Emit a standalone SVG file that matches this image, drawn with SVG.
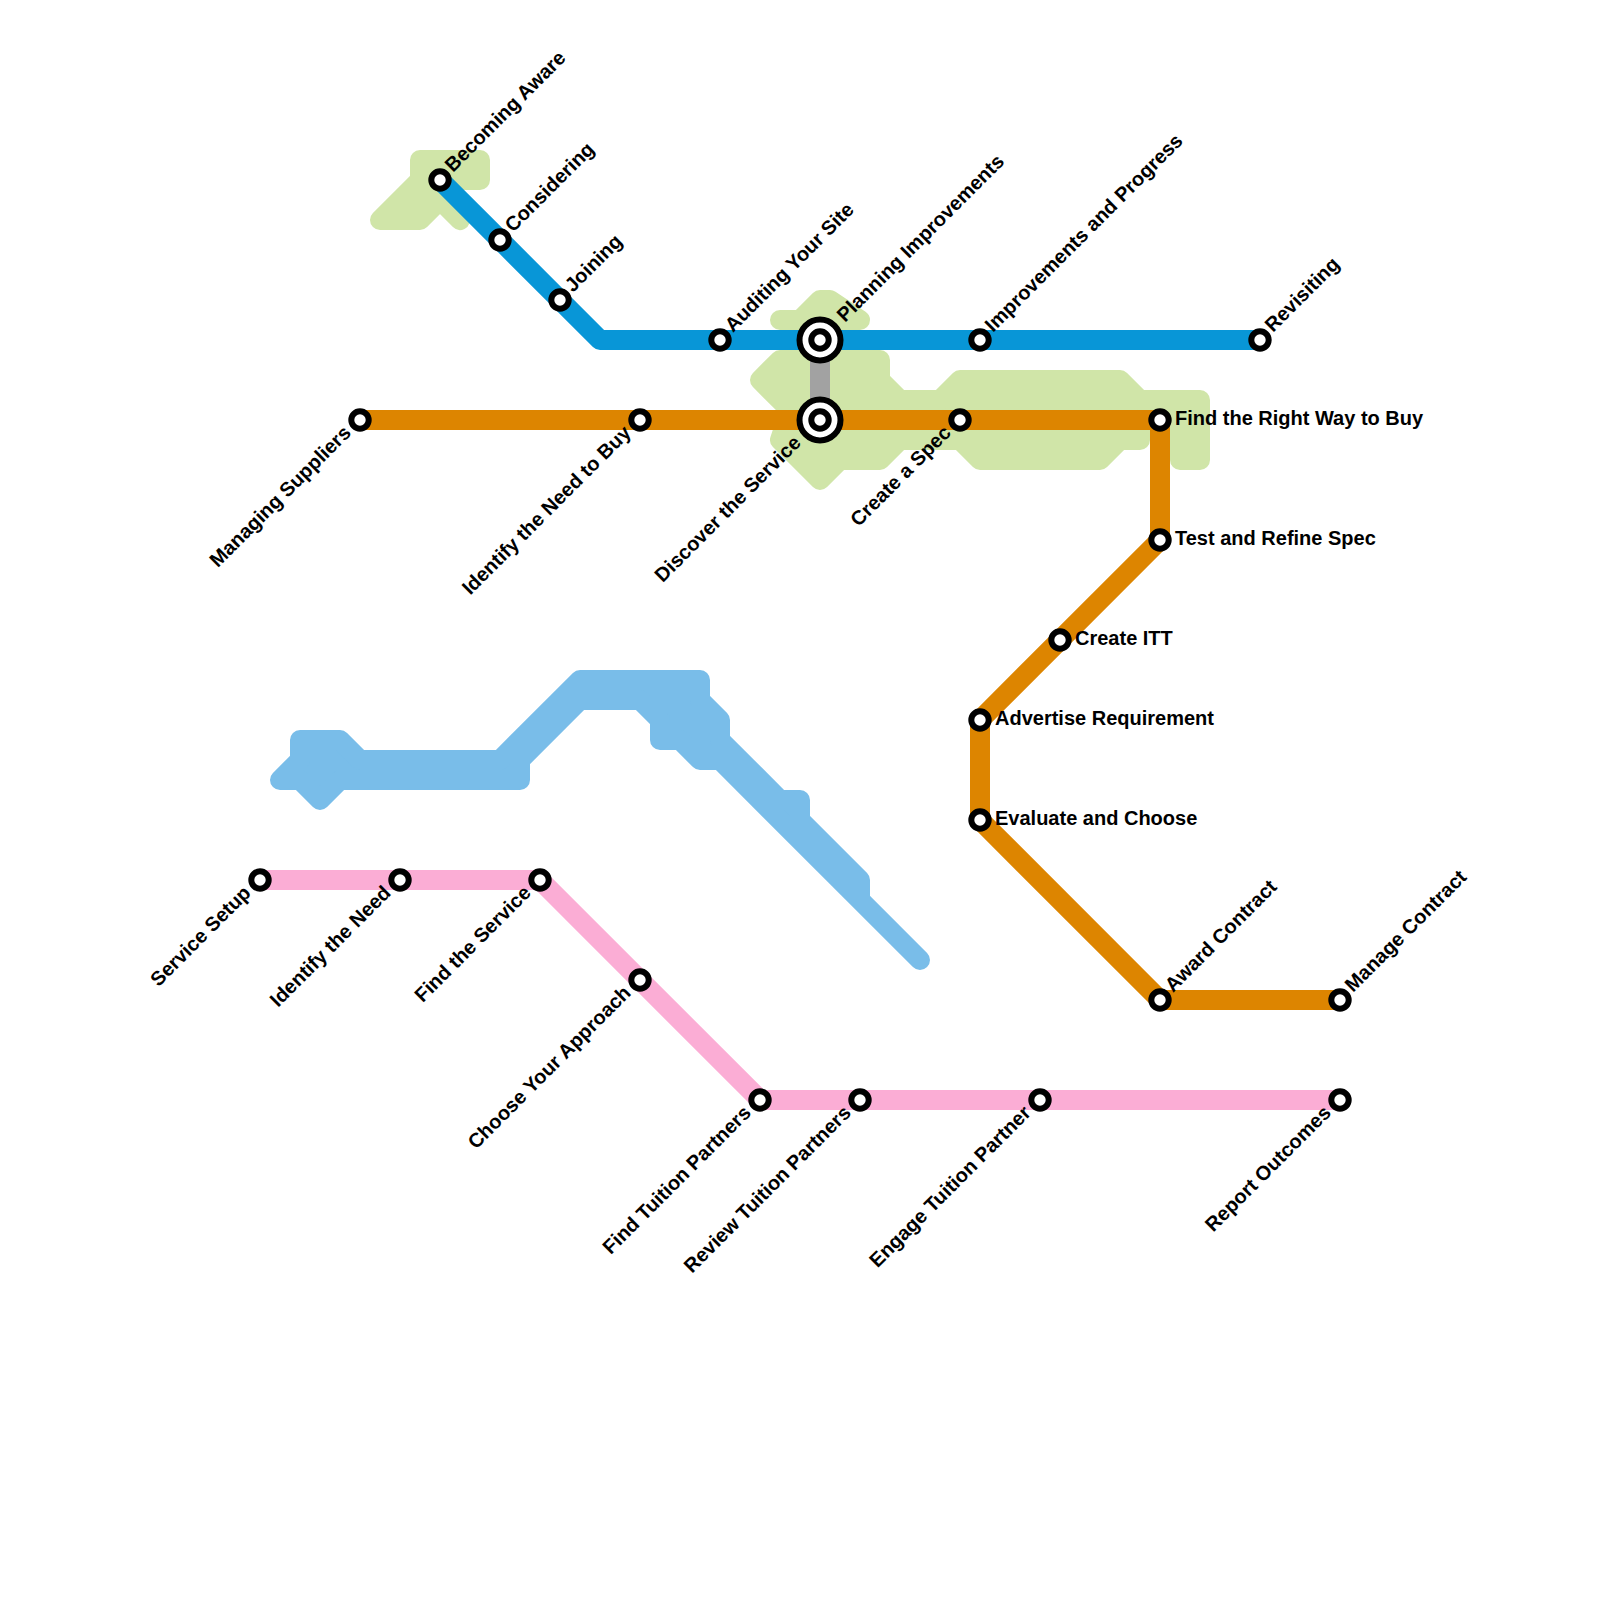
<svg xmlns="http://www.w3.org/2000/svg" width="1600" height="1600" viewBox="0 0 1600 1600">
<style>
.line{fill:none;stroke-width:20;stroke-linejoin:round;stroke-linecap:round}
.area{stroke-width:20;stroke-linejoin:round}
.st{fill:#fff;stroke:#000;stroke-width:6}
text{font-family:"Liberation Sans",Arial,sans-serif;font-weight:bold;font-size:20px;fill:#000}
.e{text-anchor:end}
</style>
<rect width="1600" height="1600" fill="#fff"/>
<g id="areas">
<polygon class="area" fill="#d0e5a8" stroke="#d0e5a8" points="420,160 480,160 480,180 440,180 460,220 440,200 420,220 380,220 420,180"/>
<polygon class="area" fill="#d0e5a8" stroke="#d0e5a8" points="780,320 860,320 830,300 820,300 800,320"/>
<polygon class="area" fill="#d0e5a8" stroke="#d0e5a8" points="760,380 780,360 880,360 880,380 900,400 940,400 960,380 1120,380 1140,400 1200,400 1200,460 1180,460 1180,420 1140,420 1140,440 1120,440 1100,460 980,460 960,440 900,440 880,460 840,460 820,480 780,440 790,410"/>
<polygon class="area" fill="#79bde9" stroke="#79bde9" points="280,780 300,760 300,740 340,740 360,760 500,760 580,680 700,680 700,700 720,720 720,740 780,800 800,800 800,820 860,880 860,900 920,960 720,760 700,760 680,740 660,740 660,720 640,700 580,700 520,760 520,780 340,780 320,800 300,780"/>
</g>
<g id="connectors">
<path class="line" stroke="#a2a2a2" d="M820 340V420"/>
<path class="line" stroke="#0896d7" d="M440 180L600 340H1260"/>
<path class="line" stroke="#dd8500" d="M360 420H1160V540L980 720V820L1160 1000H1340"/>
<path class="line" stroke="#fbadd5" d="M260 880H540L760 1100H1340"/>
</g>
<g id="s-becoming-aware"><circle class="st" cx="440" cy="180" r="8.7"/><text transform="translate(453,173) rotate(-45)">Becoming Aware</text></g>
<g id="s-considering"><circle class="st" cx="500" cy="240" r="8.7"/><text transform="translate(513,233) rotate(-45)">Considering</text></g>
<g id="s-joining"><circle class="st" cx="560" cy="300" r="8.7"/><text transform="translate(573,293) rotate(-45)">Joining</text></g>
<g id="s-auditing"><circle class="st" cx="720" cy="340" r="8.7"/><text transform="translate(733,333) rotate(-45)">Auditing Your Site</text></g>
<g id="s-planning"><circle class="st" cx="820" cy="340" r="20.5"/><circle class="st" cx="820" cy="340" r="8.7"/><text transform="translate(845,323) rotate(-45)">Planning Improvements</text></g>
<g id="s-improvements"><circle class="st" cx="980" cy="340" r="8.7"/><text transform="translate(993,333) rotate(-45)">Improvements and Progress</text></g>
<g id="s-revisiting"><circle class="st" cx="1260" cy="340" r="8.7"/><text transform="translate(1273,333) rotate(-45)">Revisiting</text></g>
<g id="s-managing"><circle class="st" cx="360" cy="420" r="8.7"/><text class="e" transform="translate(352,434) rotate(-45)">Managing Suppliers</text></g>
<g id="s-identify-buy"><circle class="st" cx="640" cy="420" r="8.7"/><text class="e" transform="translate(632,434) rotate(-45)">Identify the Need to Buy</text></g>
<g id="s-discover"><circle class="st" cx="820" cy="420" r="20.5"/><circle class="st" cx="820" cy="420" r="8.7"/><text class="e" transform="translate(802,444) rotate(-45)">Discover the Service</text></g>
<g id="s-spec"><circle class="st" cx="960" cy="420" r="8.7"/><text class="e" transform="translate(952,434) rotate(-45)">Create a Spec</text></g>
<g id="s-right-way"><circle class="st" cx="1160" cy="420" r="8.7"/><text x="1175" y="425">Find the Right Way to Buy</text></g>
<g id="s-test"><circle class="st" cx="1160" cy="540" r="8.7"/><text x="1175" y="545">Test and Refine Spec</text></g>
<g id="s-itt"><circle class="st" cx="1060" cy="640" r="8.7"/><text x="1075" y="645">Create ITT</text></g>
<g id="s-advertise"><circle class="st" cx="980" cy="720" r="8.7"/><text x="995" y="725">Advertise Requirement</text></g>
<g id="s-evaluate"><circle class="st" cx="980" cy="820" r="8.7"/><text x="995" y="825">Evaluate and Choose</text></g>
<g id="s-award"><circle class="st" cx="1160" cy="1000" r="8.7"/><text transform="translate(1173,993) rotate(-45)">Award Contract</text></g>
<g id="s-manage"><circle class="st" cx="1340" cy="1000" r="8.7"/><text transform="translate(1353,993) rotate(-45)">Manage Contract</text></g>
<g id="s-setup"><circle class="st" cx="260" cy="880" r="8.7"/><text class="e" transform="translate(252,894) rotate(-45)">Service Setup</text></g>
<g id="s-identify-need"><circle class="st" cx="400" cy="880" r="8.7"/><text class="e" transform="translate(392,894) rotate(-45)">Identify the Need</text></g>
<g id="s-find-service"><circle class="st" cx="540" cy="880" r="8.7"/><text class="e" transform="translate(532,894) rotate(-45)">Find the Service</text></g>
<g id="s-approach"><circle class="st" cx="640" cy="980" r="8.7"/><text class="e" transform="translate(632,994) rotate(-45)">Choose Your Approach</text></g>
<g id="s-find-partners"><circle class="st" cx="760" cy="1100" r="8.7"/><text class="e" transform="translate(752,1114) rotate(-45)">Find Tuition Partners</text></g>
<g id="s-review"><circle class="st" cx="860" cy="1100" r="8.7"/><text class="e" transform="translate(852,1114) rotate(-45)">Review Tuition Partners</text></g>
<g id="s-engage"><circle class="st" cx="1040" cy="1100" r="8.7"/><text class="e" transform="translate(1032,1114) rotate(-45)">Engage Tuition Partner</text></g>
<g id="s-report"><circle class="st" cx="1340" cy="1100" r="8.7"/><text class="e" transform="translate(1332,1114) rotate(-45)">Report Outcomes</text></g>
</svg>
